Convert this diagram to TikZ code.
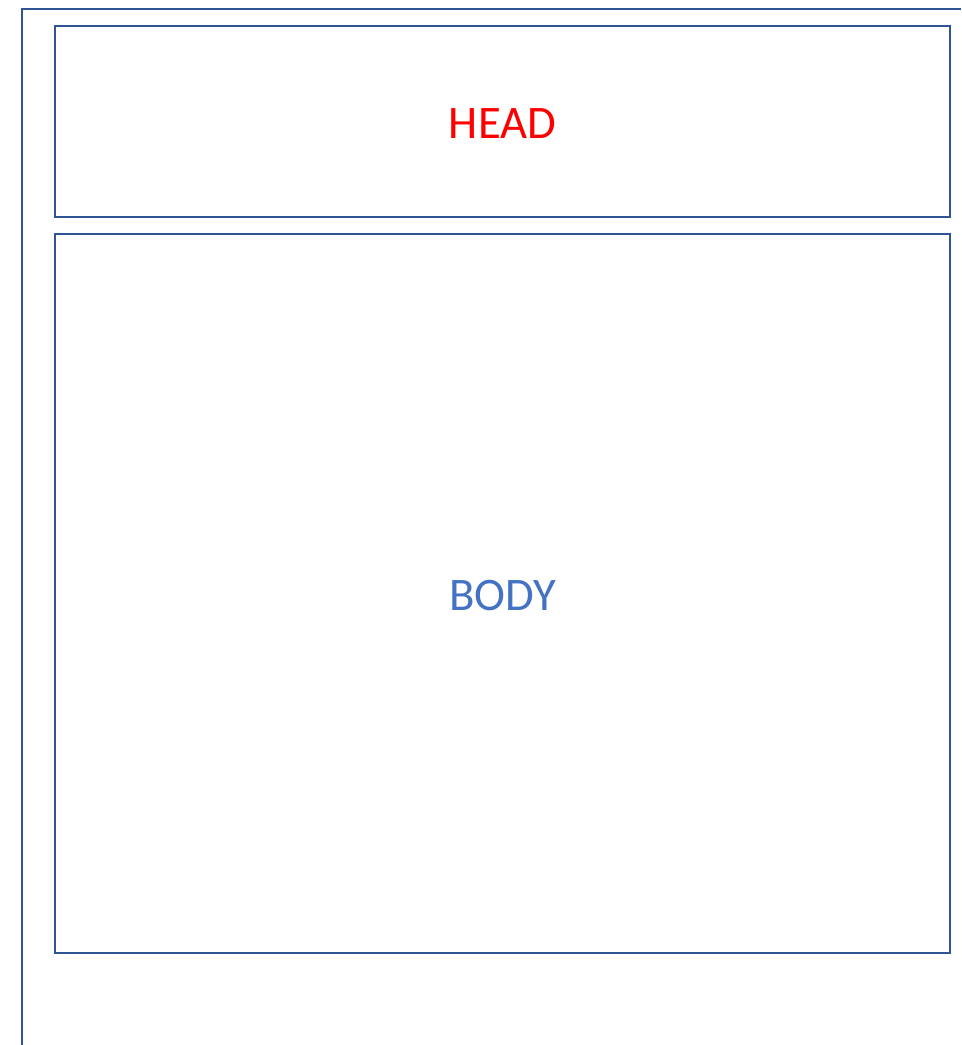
\documentclass[tikz,border=0pt]{standalone}
\usepackage{fontspec}
\setmainfont{Carlito}
\usetikzlibrary{positioning}
\definecolor{frame}{HTML}{2F5597}
\definecolor{bodytext}{HTML}{4472C4}
\definecolor{headtext}{HTML}{FF0000}
\tikzset{
  every picture/.style={line width=1.5pt, draw=frame},
  region/.style={draw=frame, fill=white, inner sep=0pt, anchor=north west},
  label/.style={font=\fontsize{35}{42}\selectfont},
}
\begin{document}
\begin{tikzpicture}[x=0.75pt, y=-0.75pt]
\useasboundingbox (0,0) rectangle (961,1045);
% outer page frame, open at right and bottom
\draw[frame] (22,1045) -- (22,9) -- (961,9);
\node[region, minimum width=895*0.75pt, minimum height=191*0.75pt] (head) at (54,25) {};
\node[region, minimum width=895*0.75pt, minimum height=719*0.75pt] (body) at (54,233) {};
\node[label, text=headtext] (headlbl) at ([yshift=-2*0.75pt]head.center) {HEAD};
\node[label, text=bodytext] (bodylbl) at ([yshift=-2*0.75pt]body.center) {BODY};
\end{tikzpicture}
\end{document}
